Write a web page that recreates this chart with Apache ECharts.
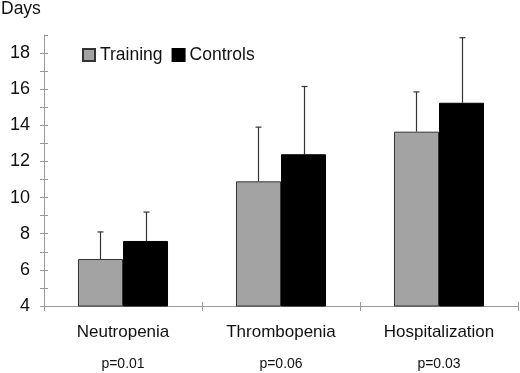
<!DOCTYPE html>
<html>
<head>
<meta charset="utf-8">
<script src="https://cdn.jsdelivr.net/npm/echarts@6/dist/echarts.min.js"></script>
<style>html,body{margin:0;padding:0;background:#fff}#c{width:520px;height:373px}</style>
</head>
<body>
<div id="c"></div>
<script>
var categories = ['Neutropenia', 'Thrombopenia', 'Hospitalization'];
var pValues = ['p=0.01', 'p=0.06', 'p=0.03'];
var trainingMean = [6.6, 10.9, 13.65];
var trainingUpper = [8.1, 13.9, 15.85];
var controlsMean = [7.6, 12.4, 15.25];
var controlsUpper = [9.2, 16.15, 18.85];
var seriesNames = ['Training', 'Controls'];
var yAxisName = 'Days';

var BAR_FRAC = 0.285;
var FONT = 'Liberation Sans, Arial, sans-serif';
var AXIS_COLOR = '#9a9a9a';

function errData(mean, upper) {
  return mean.map(function (m, i) { return [i, m, upper[i]]; });
}
function errSeries(name, mean, upper, sign) {
  return {
    type: 'custom', name: name + ' SD', xAxisIndex: 0, yAxisIndex: 0, z: 5,
    data: errData(mean, upper),
    renderItem: function (params, api) {
      var idx = api.value(0);
      var base = api.coord([idx, api.value(1)]);
      var top = api.coord([idx, api.value(2)]);
      var band = api.size([1, 0])[0];
      var x = Math.round(base[0] + sign * band * BAR_FRAC / 2) + 0.5;
      var st = { stroke: '#333', lineWidth: 1.2 };
      return { type: 'group', children: [
        { type: 'line', shape: { x1: x, y1: base[1], x2: x, y2: top[1] }, style: st },
        { type: 'line', shape: { x1: x - 3, y1: top[1], x2: x + 3, y2: top[1] }, style: st }
      ]};
    }
  };
}

var chart = echarts.init(document.getElementById('c'));
chart.setOption({
  animation: false,
  backgroundColor: '#fff',
  textStyle: { fontFamily: FONT, color: '#111' },
  title: { text: yAxisName, left: 1, top: 0, padding: 0,
    textStyle: { fontSize: 17.5, fontWeight: 'normal', color: '#111', fontFamily: FONT } },
  legend: {
    data: seriesNames, left: 82, top: 46, padding: 0, itemWidth: 12, itemHeight: 12, itemGap: 9,
    icon: 'rect', textStyle: { fontSize: 17.5, color: '#111', fontFamily: FONT, padding: [0, 0, 0, 0] }
  },
  grid: { left: 44, right: 2, top: 35, bottom: 67 },
  xAxis: [{
    type: 'category', data: categories, boundaryGap: true,
    axisLine: { lineStyle: { color: AXIS_COLOR, width: 1 } },
    axisTick: { show: true, inside: false, length: 5, lineStyle: { color: AXIS_COLOR } },
    axisLabel: { margin: 18, fontSize: 17, color: '#111', fontFamily: FONT }
  }, {
    type: 'category', data: categories, position: 'bottom', boundaryGap: true,
    axisLine: { show: false },
    axisTick: { show: true, inside: true, length: 4, lineStyle: { color: AXIS_COLOR } },
    axisLabel: { margin: 51, fontSize: 14, color: '#111', fontFamily: FONT,
      formatter: function (v, i) { return pValues[i]; } }
  }],
  yAxis: [{
    type: 'value', min: 4, max: 19, interval: 1,
    splitLine: { show: false },
    axisLine: { show: true, lineStyle: { color: AXIS_COLOR } },
    axisTick: { show: true, inside: false, length: 4, lineStyle: { color: AXIS_COLOR } },
    axisLabel: { margin: 14, fontSize: 18, color: '#111', fontFamily: FONT, showMaxLabel: false,
      formatter: function (v) { return v % 2 === 0 && v < 19 ? String(v) : ''; } }
  }, {
    type: 'value', min: 4, max: 19, interval: 1, position: 'left',
    splitLine: { show: false },
    axisLine: { show: false },
    axisTick: { show: true, inside: true, length: 4, lineStyle: { color: AXIS_COLOR } },
    axisLabel: { show: false }
  }],
  series: [{
    name: seriesNames[0], type: 'bar', data: trainingMean, barWidth: (BAR_FRAC * 100) + '%', barGap: '0%',
    itemStyle: { color: '#a3a3a3', borderColor: '#333', borderWidth: 1 }
  }, {
    name: seriesNames[1], type: 'bar', data: controlsMean, barWidth: (BAR_FRAC * 100) + '%', barGap: '0%',
    itemStyle: { color: '#000', borderColor: '#000', borderWidth: 1 }
  },
  errSeries(seriesNames[0], trainingMean, trainingUpper, -1),
  errSeries(seriesNames[1], controlsMean, controlsUpper, 1)
  ]
});
</script>
</body>
</html>
